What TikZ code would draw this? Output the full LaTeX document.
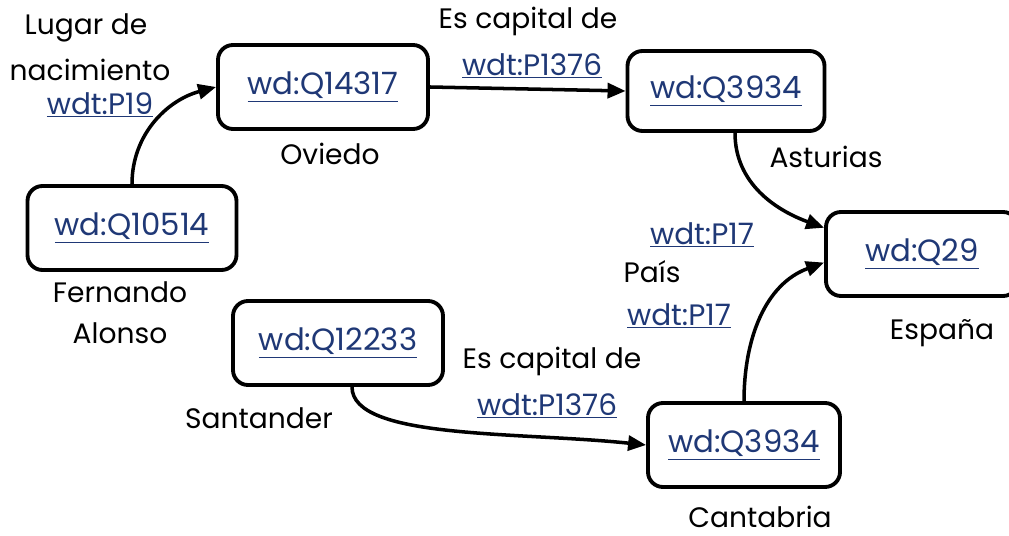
\documentclass[tikz,border=0pt]{standalone}
\usepackage{fontspec}
\setmainfont{Poppins}
\usepackage{xcolor}
\usepackage{tikz}
\usetikzlibrary{positioning,calc,arrows.meta}

\definecolor{enlace}{RGB}{31,56,118}
\newcommand{\enlace}[1]{\textcolor{enlace}{\underline{#1}}}

\begin{document}
\begin{tikzpicture}[
        % Estilo de las cajas (entidades)
        entidad/.style={
            rectangle,
            rounded corners=0.3cm,
            draw=black,
            line width=2.2pt,
            fill=white,
            minimum height=1.68cm,
            inner sep=0pt,
            font=\fontsize{17.5}{20}\selectfont
        },
        % Estilo de los textos sueltos
        etiqueta/.style={
            inner sep=1pt,
            font=\fontsize{16}{19}\selectfont
        },
        % Estilo de las propiedades (enlaces)
        propiedad/.style={
            inner sep=1pt,
            font=\fontsize{16.8}{19}\selectfont
        },
        % Estilo de las flechas
        flecha/.style={
            draw=black,
            line width=2pt,
            -{Triangle[length=0.36cm,width=0.3cm]}
        }
    ]

        \useasboundingbox (0,0) rectangle (20.18,-10.72);
        \clip (0,0) rectangle (20.18,-10.72);

        % --- ENTIDADES ---
        \node[entidad, minimum width=4.2cm] (q14317) at (6.46,-1.74) {\enlace{wd:Q14317}};
        \node[entidad, minimum width=3.94cm, minimum height=1.6cm] (asturias) at (14.52,-1.82) {\enlace{wd:Q3934}};
        \node[entidad, minimum width=4.18cm] (q10514) at (2.64,-4.56) {\enlace{wd:Q10514}};
        \node[entidad, minimum width=4.2cm] (q12233) at (6.76,-6.86) {\enlace{wd:Q12233}};
        \node[entidad, minimum width=3.84cm] (q29) at (18.44,-5.08) {\enlace{wd:Q29}};
        \node[entidad, minimum width=3.84cm] (cantabria) at (14.88,-8.9) {\enlace{wd:Q3934}};

        % --- NOMBRES ---
        \node[etiqueta] (oviedo) at (6.6,-3.08) {Oviedo};
        \node[etiqueta] (nasturias) at (16.52,-3.14) {Asturias};
        \node[etiqueta] (fernando) at (2.4,-5.84) {Fernando};
        \node[etiqueta] (alonso) at (2.4,-6.66) {Alonso};
        \node[etiqueta] (espana) at (18.84,-6.66) {España};
        \node[etiqueta] (santander) at (5.18,-8.36) {Santander};
        \node[etiqueta] (ncantabria) at (15.2,-10.34) {Cantabria};

        % --- PROPIEDADES ---
        \node[etiqueta] (lugar) at (1.72,-0.56) {Lugar de};
        \node[etiqueta] (nacim) at (1.8,-1.4) {nacimiento};
        \node[propiedad] (p19) at (2.0,-2.1) {\enlace{wdt:P19}};
        \node[etiqueta] (capital1) at (10.56,-0.42) {Es capital de};
        \node[propiedad] (p1376a) at (10.64,-1.32) {\enlace{wdt:P1376}};
        \node[propiedad] (p17a) at (14.04,-4.7) {\enlace{wdt:P17}};
        \node[etiqueta] (pais) at (13.04,-5.44) {País};
        \node[propiedad] (p17b) at (13.58,-6.32) {\enlace{wdt:P17}};
        \node[etiqueta] (capital2) at (11.04,-7.22) {Es capital de};
        \node[propiedad] (p1376b) at (10.94,-8.12) {\enlace{wdt:P1376}};

        % --- FLECHAS ---
        \draw[flecha] (q10514.north) to[out=90, in=195] (q14317.west);
        \draw[flecha] (q14317.east) -- (asturias.west);
        \draw[flecha] ([xshift=0.18cm]asturias.south) to[out=-90, in=160] (q29.165);
        \draw[flecha] (cantabria.north) to[out=90, in=200] (q29.185);
        \draw[flecha] ([xshift=0.28cm]q12233.south) to[out=-90, in=174, out looseness=0.45, in looseness=1.1] (cantabria.west);

    \end{tikzpicture}
\end{document}
